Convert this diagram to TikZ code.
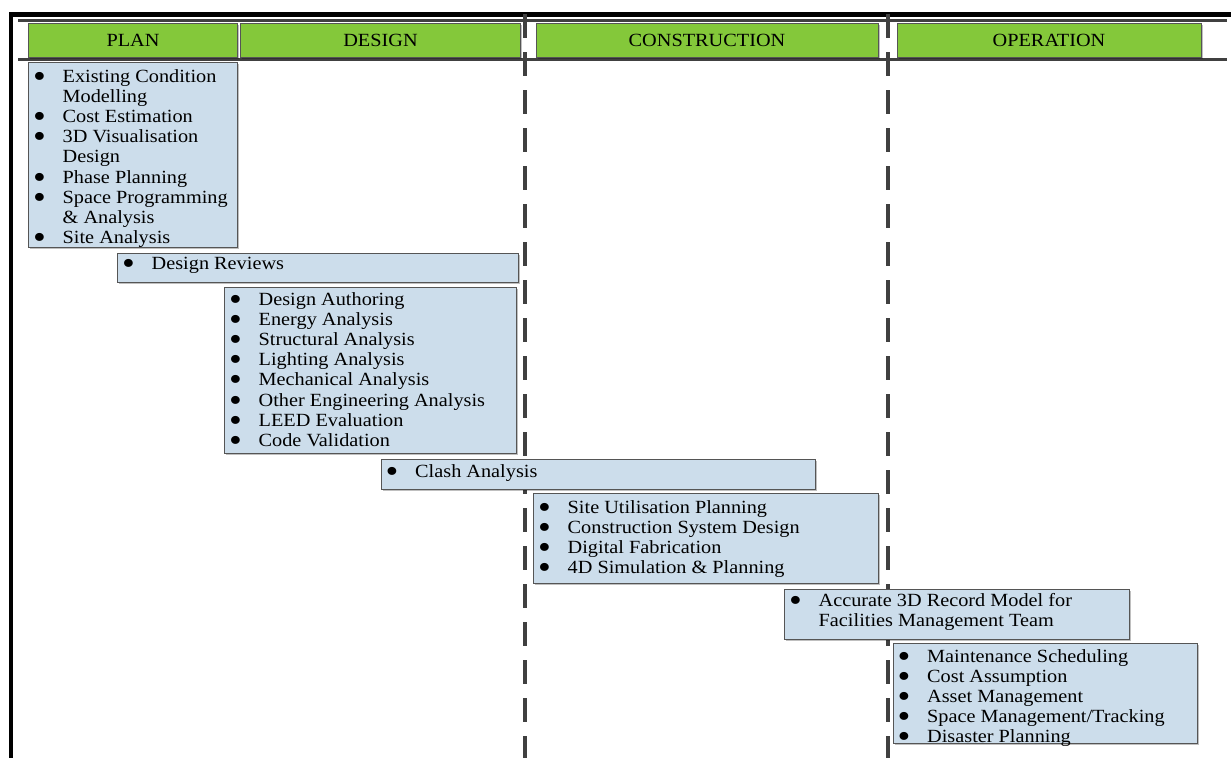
\documentclass[tikz,border=0pt]{standalone}
\usepackage{fontspec}
\setmainfont[FakeStretch=1.09]{Liberation Serif}
\usetikzlibrary{shadows}
\definecolor{hdrgreen}{RGB}{132,200,58}
\definecolor{boxblue}{RGB}{204,221,235}
\definecolor{edgegray}{RGB}{85,85,85}
\definecolor{linegray}{RGB}{64,64,64}
\newlength{\bulw}\setlength{\bulw}{30.5pt}
\newcommand{\bitem}{\makebox[\bulw][l]{\hspace{1pt}\raisebox{-5pt}{\scalebox{1.8}{\textbullet}}}}
\newcommand{\citem}{\hspace*{\bulw}}
\newcommand{\listfnt}{\fontsize{18.6}{20.2}\selectfont}
\begin{document}
\begin{tikzpicture}[x=1pt,y=-1pt,
  shd/.style={drop shadow={shadow xshift=1.5pt,shadow yshift=-1.5pt,fill=black,opacity=0.25}},
  hdr/.style={draw=edgegray,line width=1pt,fill=hdrgreen,inner sep=0pt,anchor=north west,font=\listfnt,shd},
  bbox/.style={draw=edgegray,line width=1pt,fill=boxblue,inner sep=0pt,anchor=north west,shd},
  lst/.style={anchor=base west,inner sep=0pt,font=\listfnt},
  frame/.style={line width=#1,black},
  guide/.style={line width=2.5pt,linegray},
  phase/.style={line width=4pt,linegray,dash pattern=on 24pt off 14pt}]
\useasboundingbox (0,0) rectangle (1231,758);
% outer frame
\draw[frame=5pt] (9,14.5) -- (1231,14.5);
\draw[frame=4pt] (11,12) -- (11,758);
% header guide lines
\draw[guide] (18,20.5) -- (1227,20.5);
\draw[guide] (18,59.5) -- (1227,59.5);
% phase separators
\coordinate (s1t) at (525,14); \coordinate (s1b) at (525,758);
\coordinate (s2t) at (887.5,14); \coordinate (s2b) at (887.5,758);
\draw[phase] (s1t) -- (s1b);
\draw[phase] (s2t) -- (s2b);
% headers
\node[hdr,minimum width=209pt,minimum height=33.7pt] (plan) at (28,23) {PLAN};
\node[hdr,minimum width=280pt,minimum height=33.7pt] (design) at (240,23) {DESIGN};
\node[hdr,minimum width=342pt,minimum height=33.7pt] (constr) at (535.5,23) {CONSTRUCTION};
\node[hdr,minimum width=304pt,minimum height=33.7pt] (oper) at (896.5,23) {OPERATION};
% box 1
\node[bbox,minimum width=209pt,minimum height=185pt] (b1) at (28,62) {};
\node[lst] (t1) at (32,82) {\begin{tabular}[t]{@{}l@{}}
\bitem Existing Condition\\
\citem Modelling\\
\bitem Cost Estimation\\
\bitem 3D Visualisation\\
\citem Design\\
\bitem Phase Planning\\
\bitem Space Programming\\
\citem \& Analysis\\
\bitem Site Analysis
\end{tabular}};
% box 2
\node[bbox,minimum width=401pt,minimum height=29pt] (b2) at (117,253) {};
\node[lst] (t2) at (121,269) {\begin{tabular}[t]{@{}l@{}}\bitem Design Reviews\end{tabular}};
% box 3
\node[bbox,minimum width=292pt,minimum height=166pt] (b3) at (224,287) {};
\node[lst] (t3) at (228,305) {\begin{tabular}[t]{@{}l@{}}
\bitem Design Authoring\\
\bitem Energy Analysis\\
\bitem Structural Analysis\\
\bitem Lighting Analysis\\
\bitem Mechanical Analysis\\
\bitem Other Engineering Analysis\\
\bitem LEED Evaluation\\
\bitem Code Validation
\end{tabular}};
% box 4
\node[bbox,minimum width=434pt,minimum height=30pt] (b4) at (381,459) {};
\node[lst] (t4) at (384.5,477) {\begin{tabular}[t]{@{}l@{}}\bitem Clash Analysis\end{tabular}};
% box 5
\node[bbox,minimum width=345pt,minimum height=90pt] (b5) at (533,493) {};
\node[lst] (t5) at (537,513) {\begin{tabular}[t]{@{}l@{}}
\bitem Site Utilisation Planning\\
\bitem Construction System Design\\
\bitem Digital Fabrication\\
\bitem 4D Simulation \& Planning
\end{tabular}};
% box 6
\node[bbox,minimum width=345pt,minimum height=50pt] (b6) at (784,589) {};
\node[lst] (t6) at (788,606) {\begin{tabular}[t]{@{}l@{}}
\bitem Accurate 3D Record Model for\\
\citem Facilities Management Team
\end{tabular}};
% box 7
\node[bbox,minimum width=304pt,minimum height=100pt] (b7) at (893,643) {};
\node[lst] (t7) at (896.5,662) {\begin{tabular}[t]{@{}l@{}}
\bitem Maintenance Scheduling\\
\bitem Cost Assumption\\
\bitem Asset Management\\
\bitem Space Management/Tracking\\
\bitem Disaster Planning
\end{tabular}};
\end{tikzpicture}
\end{document}
